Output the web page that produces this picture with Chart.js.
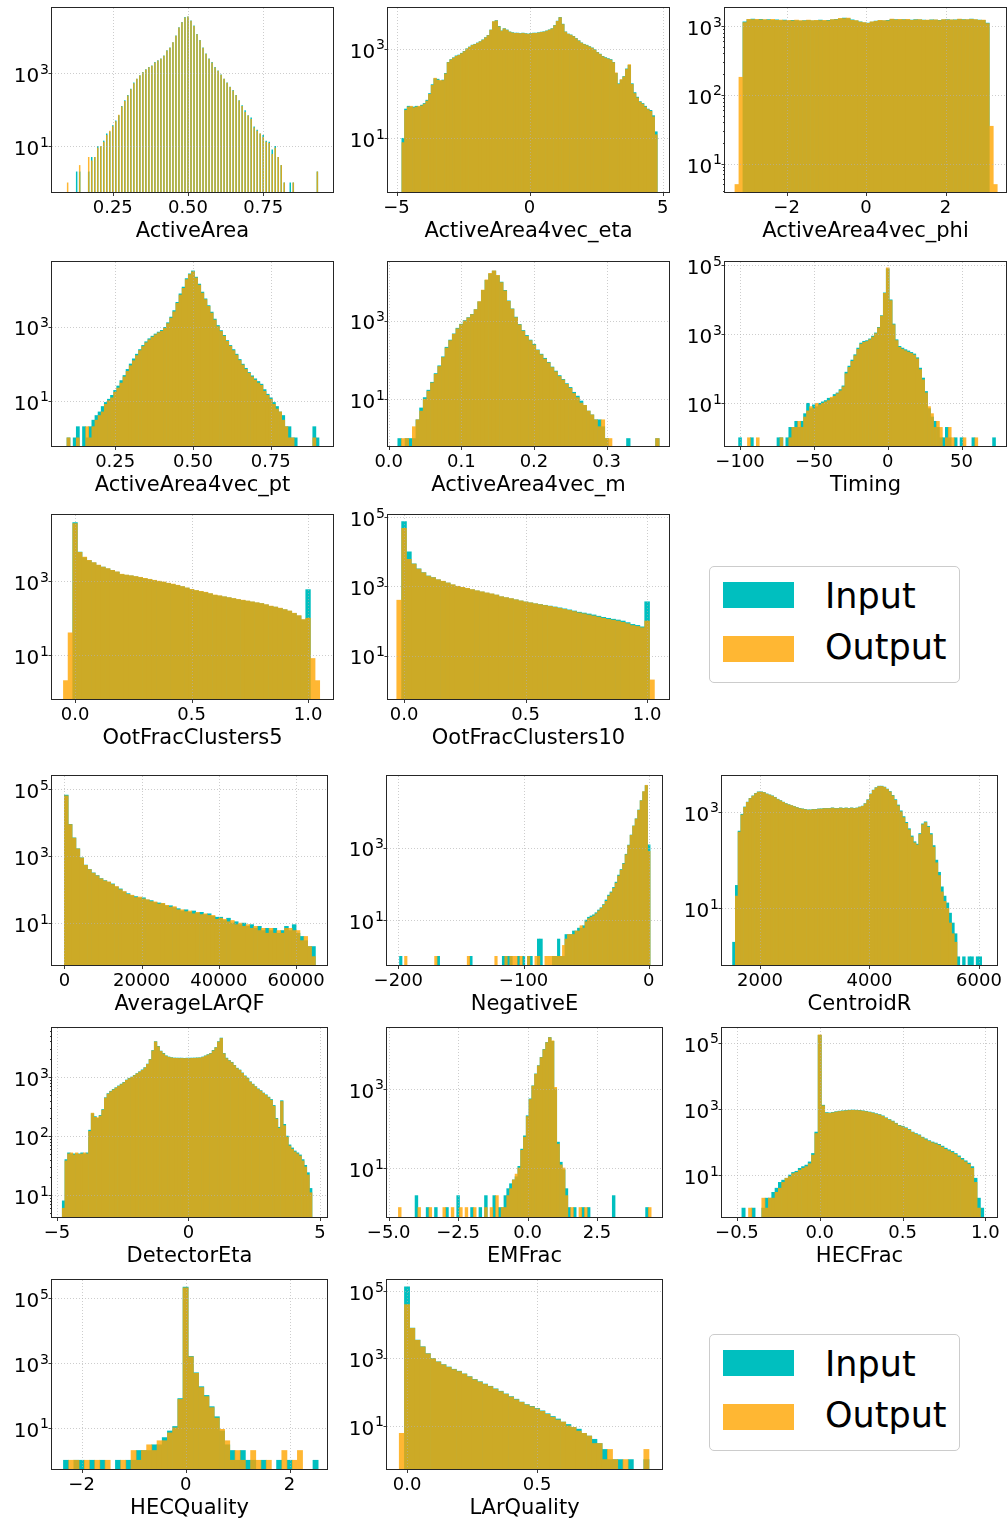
<!DOCTYPE html>
<html><head><meta charset="utf-8">
<script src="https://cdn.jsdelivr.net/npm/chart.js@4.4.1/dist/chart.umd.min.js"></script>
<style>
html,body{margin:0;padding:0;background:#fff;}
body{width:1007px;height:1519px;position:relative;overflow:hidden;font-family:"DejaVu Sans";}
canvas.h{position:absolute;}
.lg{position:absolute;width:249px;height:115px;border:1px solid #cccccc;border-radius:5px;background:rgba(255,255,255,0.8);}
.pt{position:absolute;left:13px;width:71px;height:26px;}
.lt{position:absolute;left:115px;font-family:"DejaVu Sans";font-size:35px;line-height:35px;color:#000;white-space:nowrap;}
</style></head><body>
<script>
// ---------------- DATA ----------------
const TITLES = ['ActiveArea','ActiveArea4vec_eta','ActiveArea4vec_phi','ActiveArea4vec_pt','ActiveArea4vec_m','Timing',
  'OotFracClusters5','OotFracClusters10','AverageLArQF','NegativeE','CentroidR','DetectorEta','EMFrac','HECFrac','HECQuality','LArQuality'];
const LEGEND_LABELS = ['Input','Output'];
// histogram bins: first edge and bin width per variable
const BIN_LO = [0.095,-4.8,-3.3,0.085,0.0125,-105,-0.05,-0.03,0,-203,1500,-4.8,-4.75,-0.47,-2.35,-0.03];
const BIN_W  = [0.01,0.1,0.1,0.01,0.005,2,0.02,0.02,1000,2,50,0.1,0.1,0.02,0.1,0.02];
const X_TICKS = [[0.25,0.5,0.75],[-5,0,5],[-2,0,2],[0.25,0.5,0.75],[0,0.1,0.2,0.3],[-100,-50,0,50],[0,0.5,1],[0,0.5,1],
  [0,20000,40000,60000],[-200,-100,0],[2000,4000,6000],[-5,0,5],[-5,-2.5,0,2.5],[-0.5,0,0.5,1],[-2,0,2],[0,0.5]];
const X_LABELS = [['0.25','0.50','0.75'],['\u22125','0','5'],['\u22122','0','2'],['0.25','0.50','0.75'],['0.0','0.1','0.2','0.3'],
  ['\u2212100','\u221250','0','50'],['0.0','0.5','1.0'],['0.0','0.5','1.0'],['0','20000','40000','60000'],['\u2212200','\u2212100','0'],
  ['2000','4000','6000'],['\u22125','0','5'],['\u22125.0','\u22122.5','0.0','2.5'],['\u22120.5','0.0','0.5','1.0'],['\u22122','0','2'],['0.0','0.5']];
const Y_EXPS = [[1,3],[1,3],[1,2,3],[1,3],[1,3],[1,3,5],[1,3],[1,3,5],[1,3,5],[1,3],[1,3],[1,2,3],[1,3],[1,3,5],[1,3,5],[1,3,5]];

const IN_ACTIVEAREA = [0,0,0,2,2,0,0,2,5,5, 10,10,14,22,25,37,50,70,125,180, 250,370,550,700,870,1070,1260,1450,1600,2000,
 2240,2500,3000,4200,5000,7000,10700,17800,25000,34000, 35500,27500,20000,11700,8000,5000,3400,2500,2000,1450,
 1170,910,700,550,420,340,250,180,130,95, 70,60,34,28,22,20,14,13,8,10, 5,3,1,0,1,1,0,0,0,0, 0,0,0,2];
const OUT_ACTIVEAREA = [1,0,0,0,3,0,0,5,4,5, 9,10,13,20,26,35,48,72,120,170, 240,360,520,690,860,1050,1240,1430,1580,1950,
 2200,2450,2950,4100,4900,6900,10500,17500,24500,33000, 35000,27000,19500,11500,7900,4900,3350,2450,1950,1420,
 1150,890,690,540,410,330,245,175,125,85, 68,55,32,26,22,18,13,12,6,9, 5,3,1,0,0,1,0,0,0,0, 0,0,0,2];

const IN_ETA = [10,45,52,50,50,52,50,55,60,71, 100,158,214,209,190,200,282,500,575,631,
 692,724,794,871,1000,1096,1202,1259,1349,1445, 1585,1778,1995,2630,3981,4266,3162,2512,2818,2630,
 2399,2291,2239,2239,2188,2239,2188,2138,2188,2239, 2239,2291,2344,2399,2512,2630,2818,3311,4169,5012,
 3548,2399,2138,2042,1905,1698,1514,1349,1259,1202, 1122,1047,955,832,759,676,631,603,575,500,
 282,166,200,240,355,427,166,105,83,66, 60,52,45,42,32,14];
const OUT_ETA = [8,42,50,52,48,50,52,53,58,68, 96,152,220,200,195,195,275,490,565,620,
 680,715,780,860,985,1080,1190,1240,1330,1430, 1560,1750,1970,2600,4050,4200,3100,2480,2780,2600,
 2370,2260,2210,2200,2160,2210,2160,2110,2160,2210, 2210,2260,2320,2370,2480,2600,2780,3260,4100,4950,
 3480,2360,2110,2010,1880,1670,1490,1330,1240,1180, 1100,1030,940,820,745,665,620,590,560,490,
 290,160,205,235,345,440,160,100,80,64, 58,50,44,40,30,12];

const IN_PHI = [0,0, 1150,1240,1260,1230,1250,1220,1240,1210,1230,1200, 1220,1190,1210,1200,1180,1200,1210,1190,1200,1220,
 1190,1210,1230,1250,1270,1300,1280,1230,1190,1150, 1110,1100,1140,1180,1200,1190,1210,1250,1240,1230,
 1240,1230,1220,1240,1230,1220,1210,1230,1220,1210, 1230,1240,1220,1230,1250,1240,1230,1260,1230,1220, 1210,1100, 0,0];
const OUT_PHI = [5,180, 1120,1250,1240,1250,1230,1240,1220,1250,1210,1220, 1200,1210,1190,1220,1200,1190,1220,1200,1210,1200,
 1210,1190,1240,1240,1290,1280,1300,1210,1200,1140, 1120,1090,1150,1170,1210,1200,1190,1260,1230,1250,
 1230,1250,1210,1230,1240,1210,1220,1220,1230,1200, 1240,1230,1230,1220,1260,1230,1240,1250,1240,1210, 1220,1080, 35,5];

const IN_PT = [0,1,0,1,2,0,2,1,2,3, 4,5,7,9,11,14,19,25,35,48, 70,98,135,180,240,310,390,470,550,630,
 710,790,950,1270,1800,2700,4500,7600,11500,19500, 26500,31600,21500,14000,8500,5600,3700,2450,1600,1070,
 780,580,420,310,240,180,130,97,75,58, 47,39,33,28,20,15,12,9,7,5, 4,2,2,1,1,0,0,0,0,0, 2,1,0];
const OUT_PT = [0,1,0,0,1,0,0,2,1,2, 3,4,5,8,10,12,17,22,30,44, 62,88,120,165,225,290,365,440,520,600,
 680,750,900,1200,1700,2500,4200,7100,10800,18500, 25000,30000,20500,13200,8000,5300,3500,2300,1500,1000,
 740,550,400,295,225,170,122,92,70,55, 44,36,30,26,18,14,11,8,6,5, 3,2,1,1,0,0,0,0,0,0, 1,0,0];

const IN_M = [1,0,1,1,1,3,6,11,17,27, 45,71,120,210,320,460,640,810,1000,1200, 1450,1900,3000,5900,10500,15500,18200,14000,9500,5900,
 3200,2000,1230,800,560,420,320,250,180,140, 110,87,66,52,40,32,25,20,15,12, 9,7,5,4,3,3,2,1,0,0,
 0,0,0,1,0,0,0,0,0,0, 0,1];
const OUT_M = [0,1,1,0,2,3,5,10,16,26, 43,68,115,200,310,450,620,790,980,1180, 1420,1900,3050,6000,10800,16000,18500,14200,9300,5700,
 3100,1950,1200,780,540,400,310,240,175,135, 105,84,64,50,38,31,24,19,14,11, 8,7,5,4,3,2,3,1,1,0,
 0,0,0,0,0,0,0,0,0,0, 0,1];

const IN_TIMING = [0,0,1,0,0,0,1,0,0,0, 0,0,0,0,0,1,1,0,1,2, 2,3,2,3,5,10,7,9,8,10, 11,12,14,14,18,20,25,32,80,120,
 180,257,400,560,630,660,740,890,1100,1600, 3500,16000,80000,10000,2000,700,450,400,360,330,
 300,270,210,105,54,22,7,4,3,2, 1,1,2,1,0,1,0,1,0,0, 0,1,0,0,0,0,0,0,1,0];
const OUT_TIMING = [0,0,0,0,0,1,0,0,1,0, 0,0,0,0,0,0,1,0,0,1, 2,2,3,2,4,6,8,7,10,9, 10,11,12,15,16,19,23,30,72,110,
 165,240,370,520,590,620,700,840,1050,1550, 3400,15500,85000,9500,1900,660,420,370,335,305,
 280,250,195,95,48,20,8,5,2,3, 2,0,1,2,1,0,0,0,1,0, 0,0,1,0,0,0,0,0,0,0];

const IN_OOT5 = [0,0,40000,6300,4500,3700,3200,2750,2450,2200, 2000,1800,1550,1480,1420,1350,1280,1200,1130,1060,
 1000,950,890,830,780,720,660,600,560,530, 500,460,420,400,380,360,340,320,305,290, 275,260,250,230,210,200,185,170,155,135, 115,90,600,0,0];
const OUT_OOT5 = [2,40,38000,6200,4600,3750,3250,2800,2480,2230, 2020,1820,1580,1500,1440,1370,1300,1220,1150,1080,
 1020,970,900,850,790,730,670,610,570,540, 510,470,430,410,385,365,345,325,310,295, 280,265,252,235,214,202,188,172,158,137, 118,92,100,8,2];

const IN_OOT10 = [0,74000,10000,4500,3200,2500,2000,1800,1550,1400, 1250,1100,1000,930,870,800,740,690,640,600,
 560,500,470,440,410,380,355,335,315,300, 285,270,255,240,225,210,195,180,170,160, 150,138,128,120,113,107,100,90,80,75, 68,360,0,0];
const OUT_OOT10 = [400,47000,6000,4400,3150,2480,1980,1790,1560,1410, 1260,1120,1010,940,880,810,750,700,650,610,
 565,505,475,445,412,382,357,336,316,298, 282,266,250,234,218,203,188,172,162,150, 140,130,120,112,106,100,92,84,74,70, 64,100,2,0];

const IN_LARQF = [66000,8900,3500,1660,890,540,400,316,263,214, 186,166,148,120,105,85,76,66,62,56, 57,49,47,41,40,38,33,33,29,27,
 23,25,21,23,20,21,18,19,16,15, 15,12,14,10,11,9,10,8,9,7, 8,6,7,6,7,5,6,8,6,9, 5,4,3,2,2];
const OUT_LARQF = [63000,8700,3450,1640,880,530,395,310,258,210, 182,170,142,124,100,88,72,68,58,60, 53,50,44,43,37,39,34,30,31,25,
 25,22,23,19,21,18,19,17,17,13, 14,13,11,12,9,10,8,9,7,8, 6,7,5,7,5,6,5,7,7,6, 6,3,4,2,1];

const IN_NEGE = [0,0,1,0,0,0,0,0,0,0, 0,0,0,0,0,0,0,1,0,0, 0,0,0,0,0,0,0,0,0,0, 1,0,0,0,0,0,0,0,0,0,
 0,0,0,1,1,1,1,0,0,1, 0,1,0,1,1,0,0,3,3,0, 0,0,0,1,1,3,1,1,4,4, 4,5,5,6,6,7,10,12,13,14,
 16,19,22,27,36,49,60,80,112,175, 250,370,660,1180,2240,4000,6300,11000,20000,35000, 52000,1200];
const OUT_NEGE = [0,0,0,0,1,0,0,0,0,0, 0,0,0,0,0,0,1,0,0,0, 0,0,0,0,0,0,0,0,0,1, 0,0,0,0,0,0,0,0,0,0,
 1,0,0,0,1,0,1,1,1,0, 1,0,0,1,0,0,1,1,0,0, 1,1,1,1,1,1,1,2,3,4, 4,4,5,5,7,6,9,11,12,13,
 15,18,21,26,33,46,57,75,105,165, 240,355,640,1150,2200,3950,6200,10800,19800,35500, 53000,800];

const IN_CENTR = [2,30,400,890,1259,1585,1905,2138,2399,2570, 2570,2512,2344,2239,2138,1995,1820,1698,1585,1479,
 1413,1349,1288,1230,1175,1148,1122,1096,1096,1122, 1122,1148,1148,1175,1175,1175,1202,1175,1175,1202,
 1175,1202,1175,1202,1175,1202,1259,1318,1479,1778, 2344,2818,3162,3388,3388,3236,2951,2630,2188,1778,
 1380,1047,794,603,447,316,240,214,355,562, 617,501,355,200,100,56,28,18,13,8, 5,3,1,0,1,0,1,1,0,1, 1,0];
const OUT_CENTR = [0,18,380,860,1230,1560,1880,2110,2370,2550, 2550,2490,2320,2210,2110,1970,1800,1680,1570,1460,
 1400,1335,1275,1218,1163,1136,1110,1085,1085,1110, 1110,1136,1136,1163,1163,1163,1190,1163,1163,1190,
 1163,1190,1163,1190,1163,1190,1245,1300,1460,1750, 2300,2780,3120,3350,3340,3190,2900,2580,2140,1730,
 1330,1000,760,575,425,300,228,205,340,540, 595,480,335,185,88,48,22,14,10,5, 3,2,0,0,0,0,0,0,0,0, 0,0];

const IN_DETETA = [8,40,52,50,50,50,50,52,50,52, 126,240,214,200,224,282,447,525,575,617,
 661,708,759,813,891,955,1000,1072,1148,1230, 1318,1445,1660,1995,2818,3981,3311,2754,2512,2291,
 2188,2138,2100,2090,2090,2090,2080,2090,2090,2100, 2100,2110,2120,2188,2291,2399,2512,2818,3162,3981,
 4571,2512,2089,1905,1778,1585,1413,1318,1175,1047, 955,832,759,692,631,589,537,501,457,417,
 331,200,141,398,158,100,71,63,56,52, 48,40,32,24,13,0];
const OUT_DETETA = [6,38,50,52,48,52,49,50,52,50, 120,245,208,205,218,275,440,515,565,605,
 650,698,748,800,880,940,990,1060,1135,1215, 1300,1425,1640,1970,2780,3950,3260,2720,2480,2260,
 2160,2110,2080,2070,2060,2070,2060,2070,2060,2080, 2080,2090,2100,2160,2260,2370,2480,2780,3120,3930,
 4500,2480,2060,1880,1750,1560,1390,1300,1160,1030, 940,820,745,680,620,578,528,490,448,405,
 320,195,136,385,150,96,68,60,54,50, 46,38,30,22,11,0];

const IN_EMFRAC = [0,0,0,0,0,0,0,2,0,0, 0,1,0,0,1,0,0,0,1,0, 0,0,2,0,0,0,0,1,0,0, 1,0,2,0,0,2,0,1,1,2,
 3,4,5,6,11,30,65,210,560,1200, 2400,3900,6300,10000,15000,20000,16000,1000,45,14, 9,3,1,0,1,0,0,1,0,1,
 0,0,0,0,0,0,0,0,2,0, 0,0,0,0,0,0,0,0,0,0, 1,0];
const OUT_EMFRAC = [0,1,0,0,0,0,0,0,1,0, 0,0,1,0,0,0,0,1,0,0, 1,0,0,1,0,1,0,0,1,0, 0,0,1,0,1,0,2,0,1,1,
 2,3,5,7,10,28,60,200,540,1180, 2350,3850,6200,9800,14800,19800,16500,1100,40,12, 10,2,0,1,0,0,1,0,1,0,
 0,0,0,0,0,0,0,0,0,0, 0,0,0,0,0,0,0,0,0,0, 0,1];

const IN_HECFRAC = [1,0,0,1,0,0,1,2,2,3, 4,6,7,8,10,12,13,16,18,20, 25,45,200,170000,1300,780,760,790,830,860,
 880,900,920,930,920,910,880,850,810,770, 720,680,620,540,480,430,370,320,300,270, 240,200,180,165,140,125,110,100,93,85,
 75,65,58,52,45,38,32,27,23,18, 8,2,1];
const OUT_HECFRAC = [0,0,1,0,0,0,2,1,2,2, 3,4,6,8,9,11,12,14,16,18, 22,40,180,175000,1250,750,740,770,810,840,
 860,880,900,910,900,890,860,830,790,750, 700,660,600,525,465,415,360,310,290,260, 230,195,172,158,135,118,105,95,88,80,
 70,60,54,48,42,35,29,25,21,16, 6,1,0];

const IN_HECQ = [1,0,1,1,0,1,0,1,0,0, 1,0,1,1,2,2,2,3,3,5, 8,11,80,220000,1600,500,186,100,45,22, 8,3,2,1,2,1,1,0,1,0, 0,1,0,1,0,0,0,0,1];
const OUT_HECQ = [0,1,1,0,1,0,1,0,1,0, 0,1,0,2,1,2,3,2,4,4, 7,10,75,210000,1550,480,175,92,42,20, 9,4,1,2,1,0,2,1,0,1, 0,0,2,0,1,2,0,0,0];

const IN_LARQ = [0,135000,8000,3500,2240,1400,1000,800,660,560, 480,420,350,290,240,205,175,150,126,107,
 89,74,62,51,43,38,33,28,23,19, 16,13,11,9,8,6,5,4,3,2, 1,1,1,0,1,0,0,1,0];
const OUT_LARQ = [6,40000,7800,3450,2200,1380,990,790,650,550, 470,410,345,285,235,200,170,147,123,104,
 87,72,60,50,42,37,32,27,22,18, 15,13,10,9,7,6,5,3,3,1, 2,1,0,1,0,0,0,2,0];

const SERIES_IN  = [IN_ACTIVEAREA,IN_ETA,IN_PHI,IN_PT,IN_M,IN_TIMING,IN_OOT5,IN_OOT10,IN_LARQF,IN_NEGE,IN_CENTR,IN_DETETA,IN_EMFRAC,IN_HECFRAC,IN_HECQ,IN_LARQ];
const SERIES_OUT = [OUT_ACTIVEAREA,OUT_ETA,OUT_PHI,OUT_PT,OUT_M,OUT_TIMING,OUT_OOT5,OUT_OOT10,OUT_LARQF,OUT_NEGE,OUT_CENTR,OUT_DETETA,OUT_EMFRAC,OUT_HECFRAC,OUT_HECQ,OUT_LARQ];

// ---------------- LAYOUT (pixel boxes, axis ranges) ----------------
const LAYOUT = [
 {box:[52,8,281,184],   xr:[0.048,0.982], yr:[-0.26,4.78], bp:0.5},
 {box:[388,8,281,184],  xr:[-5.32,5.24],  yr:[-0.2,3.91]},
 {box:[725,8,281,184],  xr:[-3.55,3.52],  yr:[0.59,3.26], minor:true},
 {box:[52,262,281,184], xr:[0.047,0.95],  yr:[-0.22,4.74]},
 {box:[388,262,281,184],xr:[-0.001,0.386],yr:[-0.19,4.49]},
 {box:[725,262,281,184],xr:[-110.2,80.1], yr:[-0.24,5.1]},
 {box:[52,515,281,184], xr:[-0.099,1.107],yr:[-0.2,4.81]},
 {box:[388,515,281,184],xr:[-0.066,1.09], yr:[-0.25,5.06]},
 {box:[52,776,275,189], xr:[-3200,68000], yr:[-0.25,5.39]},
 {box:[387,776,275,189],xr:[-209,10.5],   yr:[-0.24,4.98]},
 {box:[722,776,275,189],xr:[1307,6330],   yr:[-0.17,3.74]},
 {box:[52,1028,275,189],xr:[-5.19,5.27],  yr:[0.63,3.83], minor:true},
 {box:[387,1028,275,189],xr:[-5.06,4.84], yr:[-0.24,4.54]},
 {box:[722,1028,275,189],xr:[-0.59,1.07], yr:[-0.27,5.45]},
 {box:[52,1280,275,189],xr:[-2.57,2.72],  yr:[-0.27,5.56]},
 {box:[387,1280,275,189],xr:[-0.077,0.98],yr:[-0.28,5.33]}
];
const COLORS = {input:'rgb(0,191,191)', output:'rgb(255,165,0)', outputAlpha:0.8};
const PADL=62, PADT=12, PADR=24, PADB=64;

function build(i){
  const L = LAYOUT[i];
  const inp = SERIES_IN[i], out = SERIES_OUT[i];
  const centers = inp.map((_,k)=> BIN_LO[i] + (k+0.5)*BIN_W[i]);
  const W = L.box[2]+PADL+PADR, H = L.box[3]+PADT+PADB;
  const cv = document.createElement('canvas');
  cv.className='h';
  cv.width=W; cv.height=H;
  cv.style.width=W+'px'; cv.style.height=H+'px';
  cv.style.left=(L.box[0]-PADL)+'px'; cv.style.top=(L.box[1]-PADT)+'px';
  document.body.appendChild(cv);

  const layer = {
    id:'layer'+i,
    beforeDatasetDraw(chart,args){
      if (chart.data.datasets[args.index].label!=='Output') return;
      let off = chart.$off; if(!off){ off=document.createElement('canvas'); chart.$off=off; }
      off.width=chart.canvas.width; off.height=chart.canvas.height;
      const o=off.getContext('2d'); const ca=chart.chartArea;
      o.save(); o.beginPath(); o.rect(ca.left,ca.top,ca.right-ca.left,ca.bottom-ca.top); o.clip();
      args.meta.controller._ctx=o;
    },
    afterDatasetDraw(chart,args){
      if (chart.data.datasets[args.index].label!=='Output') return;
      const o=chart.$off.getContext('2d'); o.restore();
      args.meta.controller._ctx=chart.ctx;
      const c=chart.ctx; c.save(); c.setTransform(1,0,0,1,0,0); c.globalAlpha=COLORS.outputAlpha; c.drawImage(chart.$off,0,0); c.restore();
    }
  };
  const decor = {
    id:'decor'+i,
    afterDatasetsDraw(chart){
      const ctx=chart.ctx, ca=chart.chartArea, xs=chart.scales.x, ys=chart.scales.y;
      ctx.save();
      // dotted grid drawn over the bars
      ctx.strokeStyle='#b0b0b0'; ctx.lineWidth=0.8; ctx.setLineDash([0.8,2.2]);
      ctx.beginPath();
      xs.ticks.forEach(t=>{ const px=Math.round(xs.getPixelForValue(t.value))+0.5; ctx.moveTo(px,ca.top); ctx.lineTo(px,ca.bottom); });
      ys.ticks.forEach(t=>{ const py=Math.round(ys.getPixelForValue(t.value))+0.5; ctx.moveTo(ca.left,py); ctx.lineTo(ca.right,py); });
      ctx.stroke();
      ctx.setLineDash([]);
      // tick marks
      ctx.strokeStyle='#222'; ctx.lineWidth=0.9; ctx.beginPath();
      xs.ticks.forEach(t=>{ const px=Math.round(xs.getPixelForValue(t.value))+0.5; ctx.moveTo(px,ca.bottom); ctx.lineTo(px,ca.bottom+4); });
      ys.ticks.forEach(t=>{ const py=Math.round(ys.getPixelForValue(t.value))+0.5; ctx.moveTo(ca.left,py); ctx.lineTo(ca.left-3.5,py); });
      if (L.minor){
        for(let k=Math.floor(L.yr[0]);k<=Math.ceil(L.yr[1]);k++){
          for(let m=2;m<=9;m++){ const v=m*Math.pow(10,k);
            if(v>=ys.min && v<=ys.max){ const py=Math.round(ys.getPixelForValue(v))+0.5; ctx.moveTo(ca.left,py); ctx.lineTo(ca.left-2,py);} }
        }
      }
      ctx.stroke();
      // y tick labels: 10 with a raised exponent (mathtext style)
      ctx.fillStyle='#000'; ctx.textAlign='left'; ctx.textBaseline='alphabetic';
      ys.ticks.forEach((t,k)=>{
        const py=ys.getPixelForValue(t.value);
        const e=String(Y_EXPS[i][k]);
        ctx.font='20px "DejaVu Sans"'; const w1=ctx.measureText('10').width;
        ctx.font='14px "DejaVu Sans"'; const w2=ctx.measureText(e).width;
        const right=ca.left-3;
        ctx.font='20px "DejaVu Sans"'; ctx.fillText('10', right-w2-w1-0.8, py+8.8);
        ctx.font='14px "DejaVu Sans"'; ctx.fillText(e, right-w2, py+0.6);
      });
      // frame
      ctx.strokeStyle='#262626'; ctx.lineWidth=1;
      ctx.strokeRect(ca.left-0.5, ca.top-0.5, ca.right-ca.left+1, ca.bottom-ca.top+1);
      // axis title
      ctx.font='21px "DejaVu Sans"'; ctx.textAlign='center';
      ctx.fillText(TITLES[i], (ca.left+ca.right)/2, ca.bottom+44.5);
      ctx.restore();
    }
  };

  new Chart(cv, {
    type:'bar',
    data:{datasets:[
      {label:LEGEND_LABELS[0], order:1, data:centers.map((x,k)=>({x:x, y: inp[k]>0?inp[k]:null})), backgroundColor:COLORS.input},
      {label:LEGEND_LABELS[1], order:0, data:centers.map((x,k)=>({x:x, y: out[k]>0?out[k]:null})), backgroundColor:COLORS.output}
    ]},
    options:{
      responsive:false, maintainAspectRatio:false, animation:false, devicePixelRatio:1, events:[],
      layout:{padding:{left:0, top:PADT, right:PADR, bottom:0}},
      plugins:{legend:{display:false}, tooltip:{enabled:false}, title:{display:false}},
      datasets:{bar:{grouped:false, categoryPercentage:1, barPercentage:L.bp||1, borderWidth:0}},
      scales:{
        x:{type:'linear', position:'bottom', bounds:'data', offset:false, min:L.xr[0], max:L.xr[1],
           grid:{display:false, drawTicks:false}, border:{display:false},
           afterBuildTicks(s){ s.ticks = X_TICKS[i].map(v=>({value:v})); },
           afterFit(s){ s.height=PADB; s.paddingLeft=0; s.paddingRight=0; },
           ticks:{autoSkip:false, maxRotation:0, minRotation:0, padding:5.5, color:'#000',
                  font:{family:'DejaVu Sans', size:18}, callback:(v,k)=>X_LABELS[i][k]}},
        y:{type:'logarithmic', position:'left', bounds:'data', min:Math.pow(10,L.yr[0]), max:Math.pow(10,L.yr[1]),
           grid:{display:false, drawTicks:false}, border:{display:false},
           afterBuildTicks(s){ s.ticks = Y_EXPS[i].map(e=>({value:Math.pow(10,e)})); },
           afterFit(s){ s.width=PADL; s.paddingTop=0; s.paddingBottom=0; },
           ticks:{display:false, autoSkip:false}}
      }
    },
    plugins:[layer, decor]
  });
}
for (let i=0;i<TITLES.length;i++) build(i);

function legend(left, top){
  const d=document.createElement('div'); d.className='lg'; d.style.left=left+'px'; d.style.top=top+'px';
  const p1=document.createElement('div'); p1.className='pt'; p1.style.top='15px'; p1.style.background=COLORS.input;
  const p2=document.createElement('div'); p2.className='pt'; p2.style.top='69px'; p2.style.background='rgba(255,165,0,'+COLORS.outputAlpha+')';
  const t1=document.createElement('span'); t1.className='lt'; t1.style.top='11.7px'; t1.textContent=LEGEND_LABELS[0];
  const t2=document.createElement('span'); t2.className='lt'; t2.style.top='62.7px'; t2.textContent=LEGEND_LABELS[1];
  d.append(p1,p2,t1,t2); document.body.appendChild(d);
}
legend(709,566);
legend(709,1334);
</script>
</body></html>
